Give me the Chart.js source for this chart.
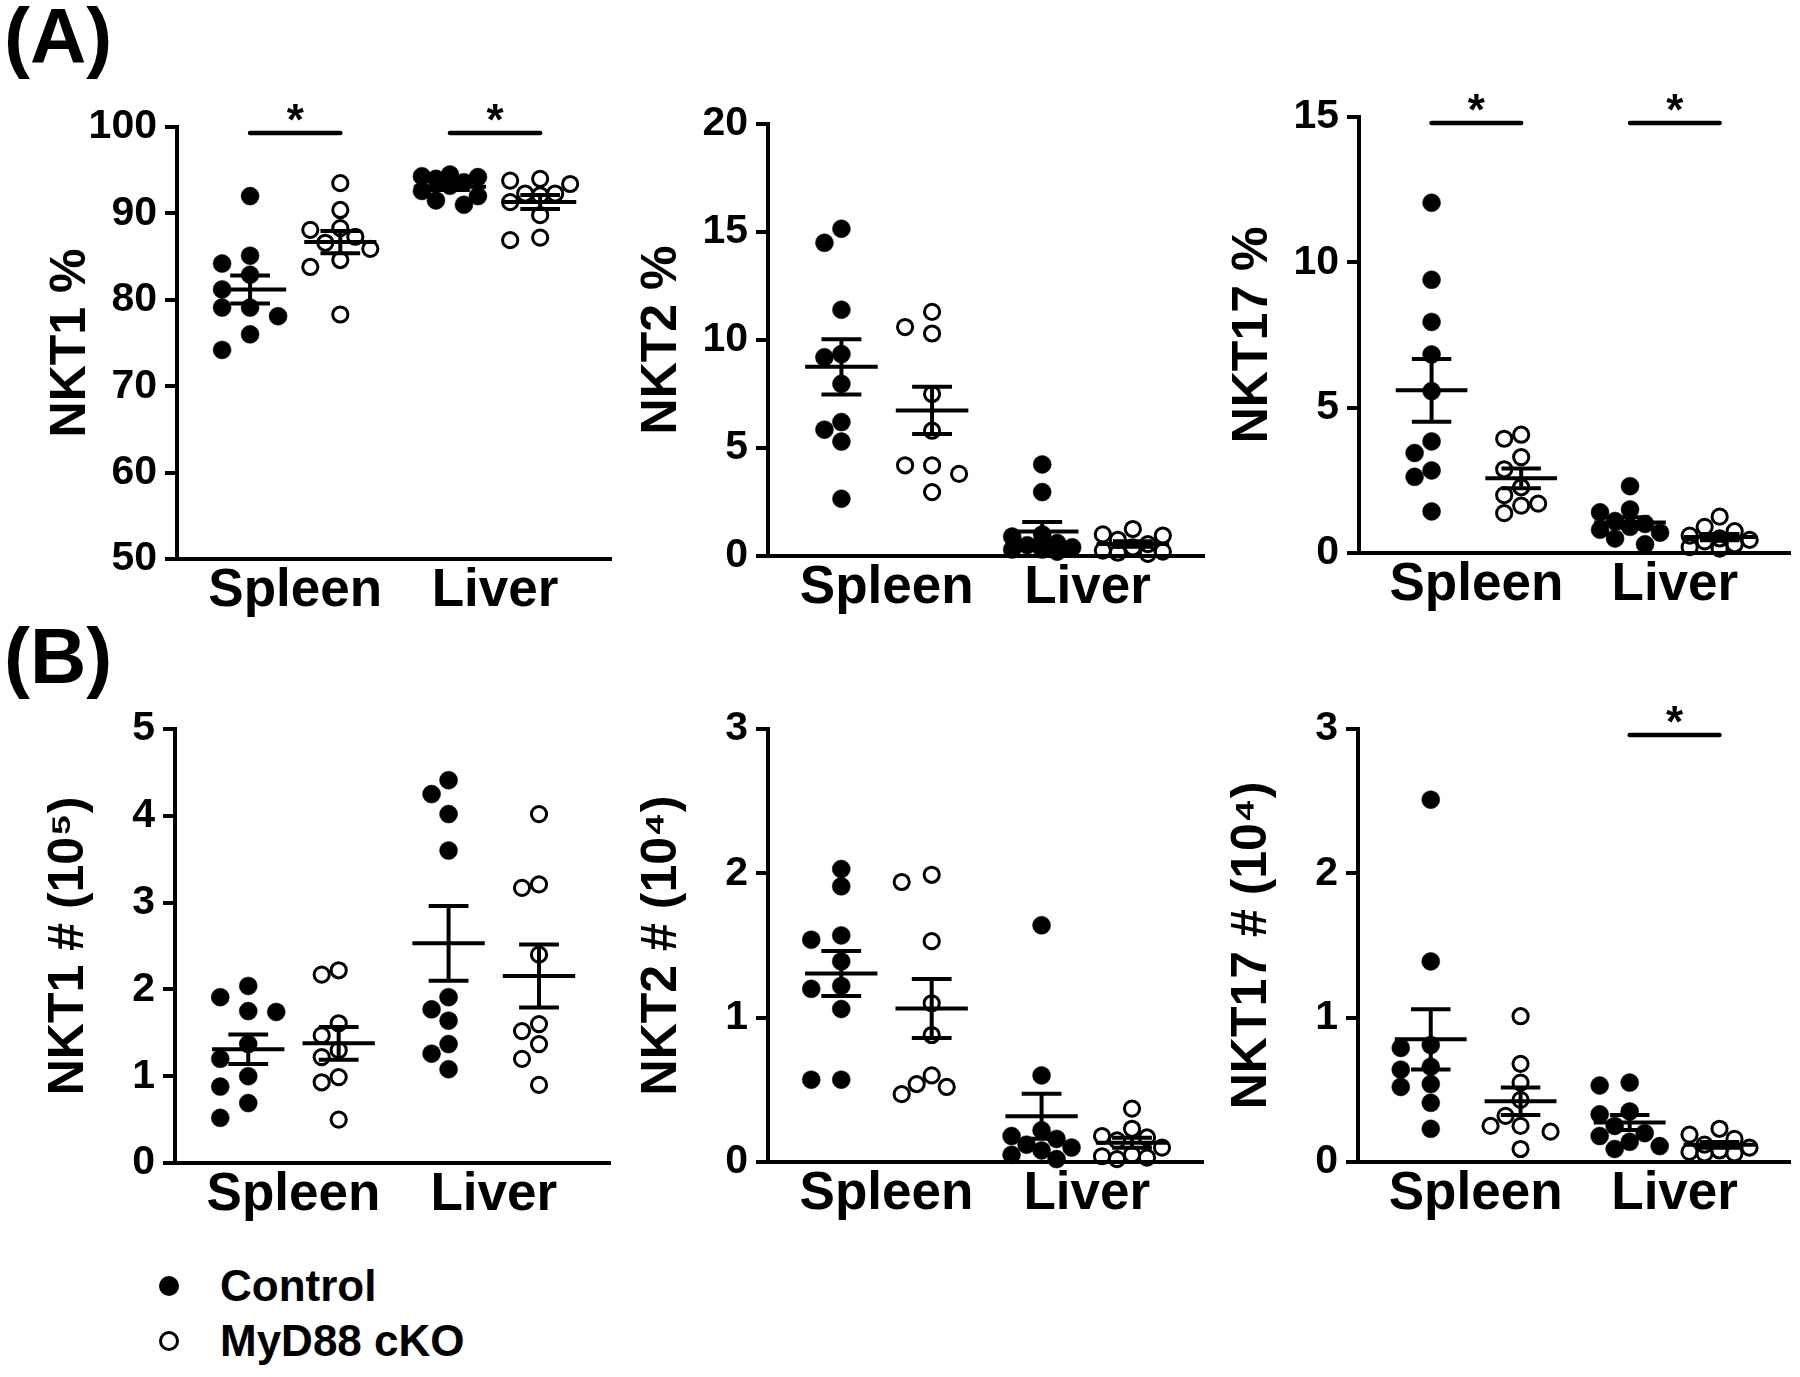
<!DOCTYPE html>
<html><head><meta charset="utf-8">
<script src="https://cdn.jsdelivr.net/npm/chart.js@4.4.0/dist/chart.umd.min.js"></script>
<style>
html,body{margin:0;padding:0;background:#fff;}
body{width:1800px;height:1377px;position:relative;overflow:hidden;font-family:"Liberation Sans",Arial,sans-serif;font-weight:bold;color:#000;}
canvas{position:absolute;}
.plabel{position:absolute;font-size:78px;line-height:1;font-weight:bold;}
.leg{position:absolute;font-size:44px;line-height:1;font-weight:bold;white-space:nowrap;}
.dot{position:absolute;width:20px;height:20px;border-radius:50%;box-sizing:border-box;}
</style></head><body>
<div class="plabel" style="left:4px;top:-3px">(A)</div>
<div class="plabel" style="left:4px;top:617px">(B)</div>
<div class="dot" style="left:159px;top:1276px;background:#000"></div>
<div class="leg" style="left:220px;top:1264px">Control</div>
<div class="dot" style="left:159px;top:1331px;border:3px solid #000"></div>
<div class="leg" style="left:220px;top:1319px">MyD88 cKO</div>
<canvas id="a1"></canvas><canvas id="a2"></canvas><canvas id="a3"></canvas>
<canvas id="b1"></canvas><canvas id="b2"></canvas><canvas id="b3"></canvas>
<script>
// ---------- DATA ----------
const categories = ['Spleen', 'Liver'];
const seriesNames = ['Control', 'MyD88 cKO'];

// (A) NKT1 %
const a1CtrlSpleen = [92.0, 85.1, 84.2, 82.9, 81.2, 79.1, 79.1, 78.1, 76.0, 74.2];
const a1KoSpleen   = [93.5, 90.4, 88.3, 88.1, 87.3, 86.6, 85.9, 84.6, 83.8, 78.3];
const a1CtrlLiver  = [94.5, 94.3, 94.2, 94.0, 93.6, 93.2, 92.6, 92.0, 91.5, 91.0];
const a1KoLiver    = [94.0, 93.8, 93.4, 92.3, 92.3, 92.1, 91.3, 89.8, 87.2, 86.9];
const a1Ticks = [50, 60, 70, 80, 90, 100];
// (A) NKT2 %
const a2CtrlSpleen = [15.15, 14.5, 11.4, 9.35, 9.2, 7.97, 6.2, 5.85, 5.3, 2.65];
const a2KoSpleen   = [11.3, 10.6, 10.3, 7.5, 5.8, 4.2, 4.2, 3.8, 2.96];
const a2CtrlLiver  = [4.24, 2.96, 1.0, 0.9, 0.6, 0.5, 0.4, 0.3, 0.3, 0.2];
const a2KoLiver    = [1.25, 1.0, 0.95, 0.75, 0.55, 0.4, 0.25, 0.2, 0.15, 0.1];
const a2Ticks = [0, 5, 10, 15, 20];
// (A) NKT17 %
const a3CtrlSpleen = [12.05, 9.4, 7.95, 6.83, 5.57, 3.84, 3.44, 2.84, 2.62, 1.43];
const a3KoSpleen   = [4.07, 3.93, 3.3, 2.88, 2.26, 1.99, 1.7, 1.63, 1.37];
const a3CtrlLiver  = [2.3, 1.5, 1.4, 1.1, 1.0, 0.9, 0.8, 0.7, 0.5, 0.3];
const a3KoLiver    = [1.25, 0.9, 0.75, 0.6, 0.5, 0.45, 0.4, 0.3, 0.2, 0.15];
const a3Ticks = [0, 5, 10, 15];
// (B) NKT1 # (10^5)
const b1CtrlSpleen = [2.04, 1.91, 1.75, 1.74, 1.37, 1.2, 1.0, 0.88, 0.69, 0.52];
const b1KoSpleen   = [2.22, 2.17, 1.61, 1.47, 1.30, 1.22, 0.99, 0.93, 0.5];
const b1CtrlLiver  = [4.41, 4.25, 4.02, 3.6, 1.91, 1.77, 1.64, 1.37, 1.26, 1.08];
const b1KoLiver    = [4.02, 3.21, 3.17, 2.4, 1.6, 1.52, 1.37, 1.2, 0.9];
const b1Ticks = [0, 1, 2, 3, 4, 5];
// (B) NKT2 # (10^4)
const b2CtrlSpleen = [2.03, 1.91, 1.57, 1.54, 1.39, 1.22, 1.2, 1.06, 0.57, 0.57];
const b2KoSpleen   = [1.99, 1.94, 1.53, 1.1, 0.88, 0.6, 0.54, 0.52, 0.47];
const b2CtrlLiver  = [1.64, 0.60, 0.22, 0.18, 0.16, 0.12, 0.10, 0.08, 0.05, 0.02];
const b2KoLiver    = [0.37, 0.23, 0.18, 0.17, 0.15, 0.10, 0.05, 0.04, 0.03, 0.02];
const b2Ticks = [0, 1, 2, 3];
// (B) NKT17 # (10^4)
const b3CtrlSpleen = [2.51, 1.39, 0.81, 0.79, 0.66, 0.64, 0.54, 0.52, 0.41, 0.23];
const b3KoSpleen   = [1.01, 0.68, 0.55, 0.43, 0.32, 0.25, 0.25, 0.21, 0.09];
const b3CtrlLiver  = [0.55, 0.53, 0.35, 0.33, 0.25, 0.2, 0.18, 0.14, 0.11, 0.09];
const b3KoLiver    = [0.23, 0.19, 0.16, 0.12, 0.10, 0.08, 0.07, 0.06, 0.06];
const b3Ticks = [0, 1, 2, 3];

// significance (category names with a * bar)
const a1Sig = ['Spleen', 'Liver'];
const a2Sig = [];
const a3Sig = ['Spleen', 'Liver'];
const b1Sig = [];
const b2Sig = [];
const b3Sig = ['Liver'];

// ---------- LAYOUT ----------
const FONT = '"Liberation Sans", Arial, Helvetica, sans-serif';
const X_MAX = 4.81, GROUP_CENTERS = [1.31, 3.525], PAIR_HALF = 0.5;
const MEAN_HALF = 0.4, CAP_HALF = 0.22;
const LEFT = 150, TOP = 70, BOTTOM = 75, RIGHT = 12;
// horizontal spread per group: [column step px, max columns each side]
const SPREAD_DEFAULT = [[15,2],[15,2],[15,2],[15,2]];

const panels = [
  {id:'a1', axisX:177, top:127, bottom:559, end:611, title:'NKT1 %', ticks:a1Ticks, min:50, max:100,
   groups:[a1CtrlSpleen, a1KoSpleen, a1CtrlLiver, a1KoLiver], sig:a1Sig,
   spread:[[28,1],[15,2],[14,2],[15,2]]},
  {id:'a2', axisX:768, top:124, bottom:556, end:1204, title:'NKT2 %', ticks:a2Ticks, min:0, max:20,
   groups:[a2CtrlSpleen, a2KoSpleen, a2CtrlLiver, a2KoLiver], sig:a2Sig,
   spread:[[17,1],[27,1],[15,2],[15,2]]},
  {id:'a3', axisX:1359, top:117, bottom:553, end:1790, title:'NKT17 %', ticks:a3Ticks, min:0, max:15,
   groups:[a3CtrlSpleen, a3KoSpleen, a3CtrlLiver, a3KoLiver], sig:a3Sig,
   spread:[[17,1],[17,2],[15,2],[15,2]]},
  {id:'b1', axisX:175, top:729, bottom:1163, end:610, title:'NKT1 # (10\u2075)', ticks:b1Ticks, min:0, max:5,
   groups:[b1CtrlSpleen, b1KoSpleen, b1CtrlLiver, b1KoLiver], sig:b1Sig,
   spread:[[28,1],[17,1],[17,1],[17,1]]},
  {id:'b2', axisX:768, top:729, bottom:1162, end:1203, title:'NKT2 # (10\u2074)', ticks:b2Ticks, min:0, max:3,
   groups:[b2CtrlSpleen, b2KoSpleen, b2CtrlLiver, b2KoLiver], sig:b2Sig,
   spread:SPREAD_DEFAULT},
  {id:'b3', axisX:1358, top:729, bottom:1162, end:1790, title:'NKT17 # (10\u2074)', ticks:b3Ticks, min:0, max:3,
   groups:[b3CtrlSpleen, b3KoSpleen, b3CtrlLiver, b3KoLiver], sig:b3Sig,
   spread:SPREAD_DEFAULT}
];

function mean(v){ return v.reduce((a,b)=>a+b,0)/v.length; }
function sem(v){ const m=mean(v); const s=v.reduce((a,b)=>a+(b-m)*(b-m),0)/(v.length-1); return Math.sqrt(s/v.length); }

// beeswarm-like horizontal spreading (pixel based) to avoid overlaps
function swarm(vals, pxX, pxY, step, maxCols, minD){
  const order = vals.map((v,i)=>i).sort((a,b)=>vals[b]-vals[a]);
  const placed = []; const off = new Array(vals.length).fill(0);
  const cands = [0];
  for (let k=1;k<=maxCols;k++){ cands.push(-k, k); }
  for (const i of order){
    const y = vals[i]*pxY;
    let best = 0, bestD = -1;
    for (const c of cands){
      const x = c*step;
      let d = Infinity;
      for (const p of placed) d = Math.min(d, Math.hypot(x-p.x, y-p.y));
      if (d >= minD){ best = x; bestD = d; break; }
      if (d > bestD){ bestD = d; best = x; }
    }
    placed.push({x:best, y}); off[i] = best/pxX;
  }
  return off;
}

function groupPos(g){ return GROUP_CENTERS[Math.floor(g/2)] + (g%2===0 ? -PAIR_HALF : PAIR_HALF); }

const sigPlugin = {
  id:'sig',
  afterDraw(chart, args, opts){
    const ctx = chart.ctx, xs = chart.scales.x, area = chart.chartArea;
    ctx.save();
    (opts.cats||[]).forEach(cat=>{
      const gi = categories.indexOf(cat);
      const x1 = xs.getPixelForValue(GROUP_CENTERS[gi]-PAIR_HALF);
      const x2 = xs.getPixelForValue(GROUP_CENTERS[gi]+PAIR_HALF);
      const y = area.top + 6;
      ctx.strokeStyle = '#000'; ctx.lineWidth = 4.5; ctx.lineCap = 'round';
      ctx.beginPath(); ctx.moveTo(x1, y); ctx.lineTo(x2, y); ctx.stroke();
      ctx.fillStyle = '#000'; ctx.font = 'bold 44px ' + FONT;
      ctx.textAlign = 'center'; ctx.textBaseline = 'alphabetic';
      ctx.fillText('*', (x1+x2)/2, y + 2);
    });
    ctx.restore();
  }
};

panels.forEach(p=>{
  const cv = document.getElementById(p.id);
  const plotW = p.end - p.axisX, plotH = p.bottom - p.top;
  const W = LEFT + plotW + RIGHT, H = TOP + plotH + BOTTOM;
  cv.width = W; cv.height = H;
  cv.style.left = (p.axisX - LEFT) + 'px'; cv.style.top = (p.top - TOP) + 'px';
  cv.style.width = W + 'px'; cv.style.height = H + 'px';
  const pxX = plotW / X_MAX, pxY = plotH / (p.max - p.min);

  const datasets = [];
  p.groups.forEach((vals, g)=>{
    const pos = groupPos(g);
    const ko = g % 2 === 1;
    const sp = p.spread[g];
    const offs = swarm(vals, pxX, pxY, sp[0], sp[1], 17);
    datasets.push({
      label: seriesNames[g%2] + ' ' + categories[Math.floor(g/2)],
      data: vals.map((v,i)=>({x: pos + offs[i], y: v})),
      pointRadius: ko ? 7.6 : 9,
      pointBorderWidth: ko ? 3 : 0.5,
      pointBackgroundColor: ko ? 'rgba(0,0,0,0)' : '#000',
      pointBorderColor: '#000',
      showLine: false, clip: false, order: 2
    });
    const m = mean(vals), s = sem(vals);
    datasets.push({
      label: 'mean±SEM',
      data: [
        {x:pos-MEAN_HALF, y:m}, {x:pos+MEAN_HALF, y:m}, {x:pos, y:null},
        {x:pos-CAP_HALF, y:m+s}, {x:pos+CAP_HALF, y:m+s}, {x:pos, y:null},
        {x:pos-CAP_HALF, y:m-s}, {x:pos+CAP_HALF, y:m-s}, {x:pos, y:null},
        {x:pos, y:m+s}, {x:pos, y:m-s}
      ],
      showLine: true, spanGaps: false, pointRadius: 0, borderWidth: 4,
      borderColor: '#000', backgroundColor: '#000', clip: false, order: 1
    });
  });

  new Chart(cv, {
    type: 'scatter',
    data: { datasets },
    options: {
      responsive: false, animation: false, devicePixelRatio: 1, events: [],
      layout: { padding: { top: TOP, right: RIGHT, left: 0, bottom: 0 } },
      plugins: { legend: { display: false }, tooltip: { enabled: false }, sig: { cats: p.sig } },
      scales: {
        x: {
          type: 'linear', min: 0, max: X_MAX,
          afterFit(s){ s.height = BOTTOM; },
          afterBuildTicks(s){ s.ticks = GROUP_CENTERS.map(v=>({value:v})); },
          ticks: { autoSkip: false, maxRotation: 0, minRotation: 0, padding: 1, color: '#000',
                   font: { family: FONT, size: 53, weight: 'bold' },
                   callback: (v, i) => categories[i] },
          grid: { display: false, drawTicks: false },
          border: { display: true, color: '#000', width: 4 }
        },
        y: {
          type: 'linear', min: p.min, max: p.max,
          afterFit(s){ s.width = LEFT; },
          afterBuildTicks(s){ s.ticks = p.ticks.map(v=>({value:v})); },
          ticks: { padding: 8, color: '#000', font: { family: FONT, size: 41, weight: 'bold' } },
          grid: { display: true, drawOnChartArea: false, drawTicks: true, tickLength: 12, lineWidth: 4, color: '#000' },
          border: { display: true, color: '#000', width: 4 },
          title: { display: true, text: p.title, color: '#000',
                   font: { family: FONT, size: 50, weight: 'bold', lineHeight: 1 },
                   padding: { top: 19, bottom: 0 } }
        }
      }
    },
    plugins: [sigPlugin]
  });
});
</script>
</body></html>
